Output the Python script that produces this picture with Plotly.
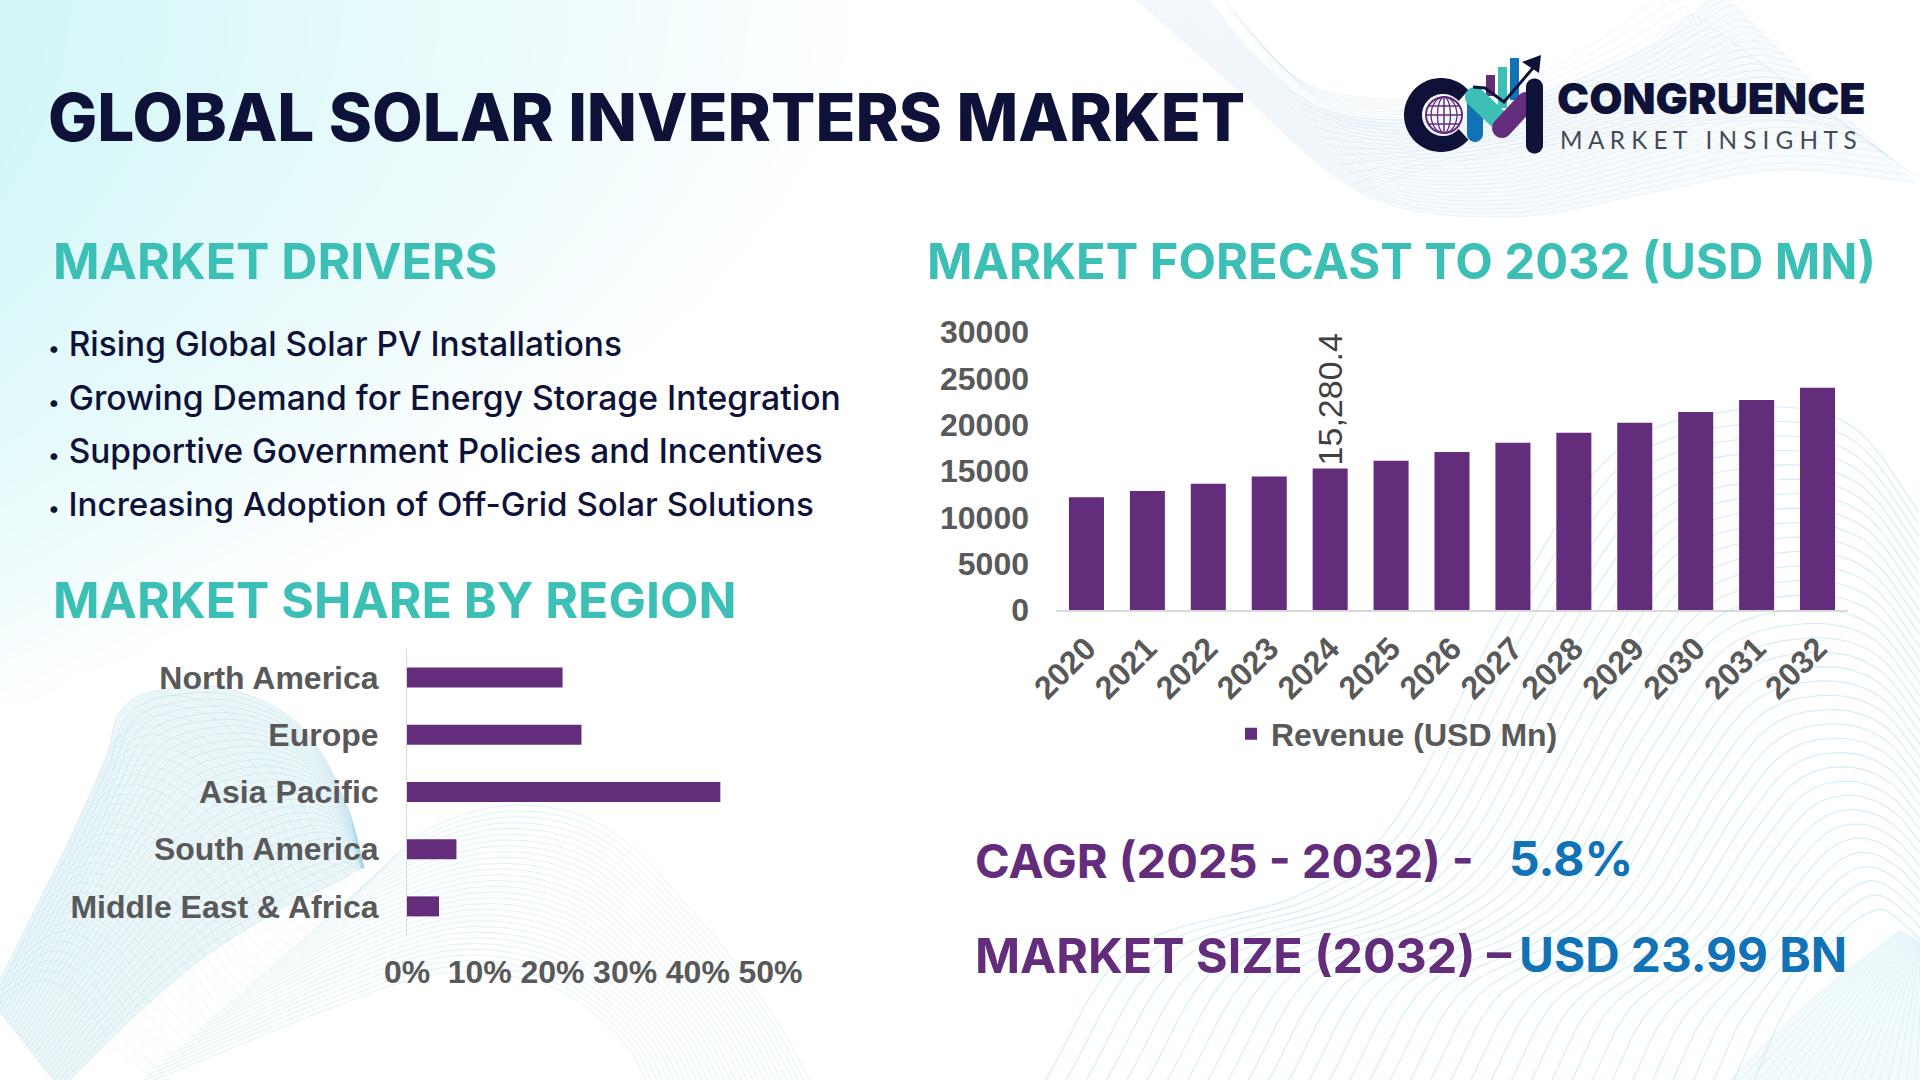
import numpy as np
import plotly.graph_objects as go

YEARS = ["2020", "2021", "2022", "2023", "2024", "2025", "2026",
         "2027", "2028", "2029", "2030", "2031", "2032"]
REVENUE = [12180, 12840, 13620, 14400, 15280.4, 16100, 17040,
           18040, 19120, 20200, 21360, 22670, 23990]
REVENUE_LABELS = ["", "", "", "", "15,280.4", "", "", "", "", "", "", "", ""]
REGIONS = ["North America", "Europe", "Asia Pacific", "South America",
           "Middle East & Africa"]
REGION_SHARE = [21.4, 24.0, 43.1, 6.8, 4.4]
DRIVERS = ["Rising Global Solar PV Installations",
           "Growing Demand for Energy Storage Integration",
           "Supportive Government Policies and Incentives",
           "Increasing Adoption of Off-Grid Solar Solutions"]

NAVY = "#0f1238"
TEAL = "#3cc0b5"
PURPLE = "#632d7b"
BLUE = "#1172b6"
GRAY = "#595959"
HEAD_FONT = "Inter"
AXIS_FONT = "Liberation Sans"
W, H = 1920, 1080


def spline(points, n=90):
    # catmull-rom through the given points
    p = np.array(points, dtype=float)
    p = np.vstack([2 * p[0] - p[1], p, 2 * p[-1] - p[-2]])
    out = []
    per = max(2, n // (len(p) - 3))
    for i in range(1, len(p) - 2):
        t = np.linspace(0, 1, per, endpoint=False)[:, None]
        a, b, c, d = p[i - 1], p[i], p[i + 1], p[i + 2]
        out.append(0.5 * (2 * b + (c - a) * t + (2 * a - 5 * b + 4 * c - d) * t ** 2
                          + (3 * b - a - 3 * c + d) * t ** 3))
    out = np.vstack(out)
    # same length for every curve, so they can be blended
    u = np.linspace(0, 1, len(out))
    v = np.linspace(0, 1, n)
    return np.column_stack([np.interp(v, u, out[:, 0]), np.interp(v, u, out[:, 1])])


def mesh(fig, edge_a, edge_b, count, color, width=0.8, tint=None):
    a, b = spline(edge_a), spline(edge_b)
    if tint:
        ring = np.vstack([a, b[::-1]])
        fig.add_trace(go.Scatter(x=ring[:, 0], y=ring[:, 1], mode="lines", fill="toself", fillcolor=tint,
                                 line=dict(width=0), hoverinfo="skip", showlegend=False,
                                 xaxis="x", yaxis="y"))
    xs, ys = [], []
    for t in np.linspace(0, 1, count):
        c = (1 - t) * a + t * b
        xs += list(c[:, 0]) + [None]
        ys += list(c[:, 1]) + [None]
    fig.add_trace(go.Scatter(x=xs, y=ys, mode="lines", hoverinfo="skip", showlegend=False,
                             line=dict(color=color, width=width), xaxis="x", yaxis="y"))


def add_background(fig):
    gx = np.linspace(0, W, 49)
    gy = np.linspace(0, H, 28)
    xx, yy = np.meshgrid(gx, gy)
    z = np.clip(1 - xx / 880 - (yy / 720) ** 2, 0, 1)
    fig.add_trace(go.Heatmap(x=gx, y=gy, z=z, zmin=0, zmax=1, zsmooth="best", showscale=False,
                             hoverinfo="skip", colorscale=[[0, "#ffffff"], [1, "#d3f6f8"]],
                             xaxis="x", yaxis="y"))

    # bottom left twisted band
    blue = "rgba(165,212,228,0.4)"
    mesh(fig, [(-10, 1000), (60, 860), (105, 760), (118, 715), (150, 692), (225, 688),
               (300, 725), (345, 800), (366, 875)],
         [(60, 1090), (130, 1020), (200, 960), (270, 915), (320, 890), (345, 878), (352, 872),
          (358, 870), (362, 868)], 30, blue, tint="rgba(190,225,236,0.3)")
    mesh(fig, [(112, 745), (150, 700), (200, 700), (250, 730), (290, 780), (320, 840), (366, 875)],
         [(-10, 1010), (40, 980), (80, 1000), (110, 1040), (130, 1060), (150, 1075), (160, 1090)],
         30, "rgba(165,212,228,0.3)")
    # arch next to it
    mesh(fig, [(370, 880), (430, 828), (520, 805), (610, 830), (700, 920), (770, 1010), (815, 1090)],
         [(130, 1090), (300, 1020), (430, 975), (530, 980), (590, 1010), (630, 1050), (650, 1090)],
         30, "rgba(190,228,234,0.6)")
    # bottom right sweep
    mesh(fig, [(1040, 1090), (1130, 950), (1300, 895), (1395, 820), (1505, 613), (1615, 452),
               (1746, 409), (1850, 425), (1925, 520)],
         [(1750, 1090), (1775, 1030), (1800, 985), (1825, 950), (1850, 925), (1870, 912), (1885, 910),
          (1905, 925), (1925, 945)],
         36, "rgba(175,222,238,0.55)", 1.1)
    mesh(fig, [(1900, 930), (1860, 960), (1800, 1010), (1720, 1090)],
         [(1925, 945), (1925, 980), (1925, 1030), (1925, 1090)], 22, "rgba(175,222,238,0.4)",
         tint="rgba(190,228,240,0.2)")
    # top right band
    soft = "rgba(190,214,232,0.35)"
    mesh(fig, [(1131, -5), (1220, 73), (1361, 193), (1508, 217), (1649, 193), (1780, 170), (1925, 183)],
         [(1205, -5), (1260, 60), (1335, 113), (1466, 113), (1623, 60), (1717, -5), (1725, -5)], 26, soft,
         tint="rgba(205,225,238,0.14)")
    mesh(fig, [(1220, -5), (1300, 80), (1400, 100), (1500, 90), (1600, 40), (1660, -5), (1665, -5)],
         [(1361, 193), (1420, 170), (1520, 150), (1650, 130), (1780, 120), (1860, 140), (1925, 183)],
         22, soft)


def capsule(x0, y0, x1, y1, w, color):
    ang = np.arctan2(y1 - y0, x1 - x0)
    t = np.linspace(-np.pi / 2, np.pi / 2, 12)
    px = np.r_[x1 + w / 2 * np.cos(ang + t), x0 + w / 2 * np.cos(ang + t + np.pi)]
    py = np.r_[y1 + w / 2 * np.sin(ang + t), y0 + w / 2 * np.sin(ang + t + np.pi)]
    return poly(px, py, color)


def poly(px, py, color, line=None, line_width=0, close=True):
    path = "M" + "L".join(f"{a:.1f},{b:.1f}" for a, b in zip(px, py)) + ("Z" if close else "")
    return dict(type="path", path=path, xref="x", yref="y", layer="above",
                fillcolor=color if close else "rgba(0,0,0,0)",
                line=dict(color=line or color, width=line_width))


def logo_shapes():
    shapes = []
    # C ring
    t = np.radians(np.linspace(42, 318, 50))
    cx, cy = 1441, 115
    px = np.r_[cx + 37 * np.cos(t), cx + 21 * np.cos(t[::-1]) + 2]
    py = np.r_[cy + 37 * np.sin(t), cy + 21 * np.sin(t[::-1])]
    shapes.append(poly(px, py, NAVY))
    # globe
    gx, gy, r = 1444, 115, 18
    a = np.radians(np.linspace(0, 360, 40))
    shapes.append(poly(gx + r * np.cos(a), gy + r * np.sin(a), "rgba(0,0,0,0)", PURPLE, 2, False))
    for k in (0.36, 0.72):
        shapes.append(poly(gx + k * r * np.cos(a), gy + r * np.sin(a), "rgba(0,0,0,0)", PURPLE, 1.3, False))
    for dy in (-9, 0, 9):
        half = np.sqrt(r ** 2 - dy ** 2)
        shapes.append(dict(type="line", xref="x", yref="y", layer="above", x0=gx - half, x1=gx + half,
                           y0=gy + dy, y1=gy + dy, line=dict(color=PURPLE, width=1.5)))
    shapes.append(dict(type="line", xref="x", yref="y", layer="above", x0=gx, x1=gx, y0=gy - r, y1=gy + r,
                       line=dict(color=PURPLE, width=1.5)))
    # bars
    for x0, x1, y0, y1, c in [(1486, 1495, 75, 96, PURPLE), (1498, 1507, 67, 108, TEAL), (1510, 1519, 58, 100, BLUE)]:
        shapes.append(dict(type="rect", xref="x", yref="y", layer="above", x0=x0, x1=x1, y0=y0, y1=y1,
                           fillcolor=c, line=dict(width=0)))
    # M strokes
    shapes.append(capsule(1475, 100, 1475, 134, 16, BLUE))
    shapes.append(capsule(1475, 97, 1497, 118, 20, TEAL))
    shapes.append(capsule(1502, 128, 1526, 102, 20, PURPLE))
    shapes.append(capsule(1534.5, 87, 1534.5, 145, 17, NAVY))
    # arrow
    shapes.append(poly([1473, 1485, 1504, 1533], [87, 88, 102, 68], "rgba(0,0,0,0)", NAVY, 3, False))
    shapes.append(poly([1522, 1541, 1539], [62, 55, 73], NAVY))
    return shapes


def label(fig, text, x, y, size, color, family=HEAD_FONT, weight=700):
    fig.add_annotation(text=text, x=x, y=y, xref="x", yref="y", showarrow=False,
                       xanchor="left", yanchor="middle", align="left",
                       font=dict(family=family, size=size, color=color, weight=weight))


fig = go.Figure()
add_background(fig)

fig.add_trace(go.Bar(x=YEARS, y=REVENUE, name="Revenue (USD Mn)", marker=dict(color=PURPLE, line=dict(width=0)),
                     text=REVENUE_LABELS, textposition="outside", textangle=-90, cliponaxis=False,
                     constraintext="none", textfont=dict(family=AXIS_FONT, size=34, color="#404040"),
                     width=0.575, xaxis="x2", yaxis="y2", showlegend=True))
fig.add_trace(go.Bar(x=REGION_SHARE, y=REGIONS, orientation="h", marker=dict(color=PURPLE, line=dict(width=0)),
                     width=0.35, xaxis="x3", yaxis="y3", showlegend=False))

tick = dict(family=AXIS_FONT, size=32, color=GRAY, weight=700)
fig.update_layout(
    width=W, height=H, autosize=False, margin=dict(l=0, r=0, t=0, b=0, autoexpand=False),
    paper_bgcolor="white", plot_bgcolor="rgba(0,0,0,0)",
    xaxis=dict(domain=[0, 1], range=[0, W], visible=False, fixedrange=True),
    yaxis=dict(domain=[0, 1], range=[H, 0], visible=False, fixedrange=True),
    xaxis2=dict(domain=[1056 / W, 1848 / W], anchor="y2", type="category", tickangle=-45,
                tickfont=tick, showline=True, linecolor="#d9d9d9", linewidth=2, ticks="", showgrid=False,
                ticklabelstandoff=5),
    yaxis2=dict(domain=[1 - 610 / H, 1 - 332 / H], anchor="x2", range=[0, 30000], dtick=5000,
                tickfont=tick, showgrid=False, zeroline=False, ticks="", tickformat="d",
                ticklabelstandoff=26),
    xaxis3=dict(domain=[407 / W, 770.5 / W], anchor="y3", range=[0, 50], dtick=10, ticksuffix="%",
                tickfont=tick, showgrid=False, zeroline=False, ticks="", ticklabelstandoff=15),
    yaxis3=dict(domain=[1 - 935 / H, 1 - 649 / H], anchor="x3", type="category", autorange="reversed",
                tickfont=tick, showline=True, linecolor="#d9d9d9", linewidth=1, ticks="", showgrid=False,
                ticklabelstandoff=21),
    legend=dict(x=1231 / W, y=1 - 734 / H, xanchor="left", yanchor="middle", bgcolor="rgba(0,0,0,0)",
                font=dict(family=AXIS_FONT, size=32, color=GRAY, weight=700), itemwidth=30),
    shapes=logo_shapes(),
)

label(fig, "GLOBAL SOLAR INVERTERS MARKET", 46, 117, 65.6, NAVY, weight=800)
label(fig, "MARKET DRIVERS", 51, 261, 50, TEAL)
label(fig, "MARKET SHARE BY REGION", 51, 600, 50, TEAL)
label(fig, "MARKET FORECAST TO 2032 (USD MN)", 925, 261, 48.8, TEAL)
for text, y, size in zip(DRIVERS, [344, 397, 451, 504], [33.4, 33.7, 33.4, 33.15]):
    label(fig, "<span style='font-size:22px'>•</span> " + text, 46, y, size, NAVY, weight=500)
label(fig, "CAGR (2025 - 2032) -", 973, 860, 47, PURPLE)
label(fig, "5.8%", 1507, 858, 48, BLUE)
label(fig, "MARKET SIZE (2032) –", 973, 955, 48.4, PURPLE)
label(fig, "USD 23.99 BN", 1517, 955, 47.7, BLUE)
label(fig, "CONGRUENCE", 1555, 98, 43, NAVY, weight=900)
label(fig, "M A R K E T   I N S I G H T S", 1558, 139, 24.3, "#444a55", family="Lato", weight=400)

fig.write_html("out.html", config=dict(displayModeBar=False),
               post_script="document.body.style.margin='0';document.body.style.overflow='hidden';")
